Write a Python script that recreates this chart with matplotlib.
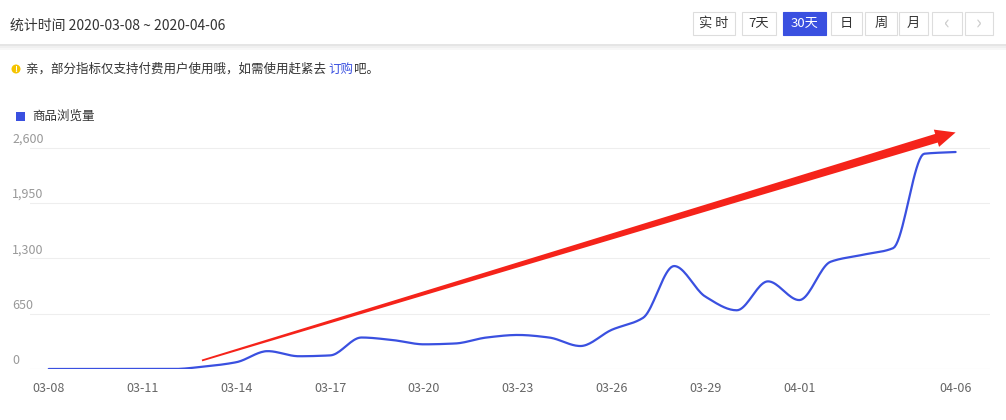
import matplotlib; matplotlib.use("Agg")
import matplotlib.pyplot as plt
import matplotlib.transforms as mtrans
from matplotlib.patches import Rectangle, Ellipse, Polygon
import numpy as np

plt.rcParams['font.family'] = ['Noto Sans CJK SC', 'DejaVu Sans']

dates = ["03-08","03-09","03-10","03-11","03-12","03-13","03-14","03-15","03-16","03-17",
         "03-18","03-19","03-20","03-21","03-22","03-23","03-24","03-25","03-26","03-27",
         "03-28","03-29","03-30","03-31","04-01","04-02","04-03","04-04","04-05","04-06"]
views = [0,0,0,0,0,30,80,210,150,160,370,340,290,300,370,400,370,270,460,600,
         1210,850,690,1030,810,1260,1340,1420,2530,2550]
xtick_labels = ["03-08","03-11","03-14","03-17","03-20","03-23","03-26","03-29","04-01","04-06"]
yticks = [0, 650, 1300, 1950, 2600]

BLUE = "#3a50e0"; GREY = "#999"; INK = "#333"

fig = plt.figure(figsize=(10.06, 4.2), dpi=100)
W, H = 1006, 420
def fx(px): return px / W
def fy(py): return 1 - py / H

# header bar with shadow
for i, a in enumerate([0.10, 0.06, 0.03]):
    fig.patches.append(Rectangle((0, fy(46 + i*2)), 1, 2/H, transform=fig.transFigure, fc="#000", alpha=a, ec="none"))
fig.text(fx(10), fy(26), "统计时间 2020-03-08 ~ 2020-04-06", fontsize=10, color=INK, va="center")
buttons = [("实 时",693,735),("7天",742,776),("30天",783,826),("日",831,862),("周",865,897),("月",899,928),("‹",932,962),("›",965,993)]
for lab, x0, x1 in buttons:
    active = lab == "30天"
    fig.patches.append(Rectangle((fx(x0), fy(35)), fx(x1-x0), 23/H, transform=fig.transFigure,
                                 fc=BLUE if active else "white", ec=BLUE if active else "#ddd", lw=0.8))
    col = "white" if active else ("#ccc" if lab in "‹›" else INK)
    fig.text(fx((x0+x1)/2), fy(23.5), lab, ha="center", va="center", fontsize=14 if lab in "‹›" else 9.5, color=col)

# notice
fig.patches.append(Ellipse((fx(16), fy(69)), 9/W, 9/H, transform=fig.transFigure, fc="#f5c400", ec="none"))
fig.text(fx(16), fy(69), "!", ha="center", va="center", fontsize=6, color="white", fontweight="bold")
t = fig.text(fx(26), fy(69), "亲，部分指标仅支持付费用户使用哦，如需使用赶紧去 ", fontsize=9, color=INK, va="center")
fig.canvas.draw()
r = fig.canvas.get_renderer()
bb = t.get_window_extent(renderer=r)
t2 = fig.text(bb.x1 / W, fy(69), "订购", fontsize=9, color=BLUE, va="center")
bb2 = t2.get_window_extent(renderer=r)
fig.text(bb2.x1 / W, fy(69), "吧。", fontsize=9, color=INK, va="center")

# legend
fig.patches.append(Rectangle((fx(16), fy(121)), 9/W, 9/H, transform=fig.transFigure, fc=BLUE, ec="none"))
fig.text(fx(32), fy(116), "商品浏览量", fontsize=9, color=INK, va="center")

# chart
ax = fig.add_axes([fx(30), fy(369), fx(960), (369-135)/H])
x = np.arange(len(dates), dtype=float)
y = np.array(views, float)
# monotone cubic (Fritsch-Carlson) smoothing for the rendered curve
h = np.diff(x); dlt = np.diff(y) / h
m = np.zeros_like(y); m[0], m[-1] = dlt[0], dlt[-1]
for i in range(1, len(y)-1):
    if dlt[i-1]*dlt[i] > 0:
        m[i] = 2/(1/dlt[i-1] + 1/dlt[i])
xs, ys = [], []
for i in range(len(y)-1):
    tt = np.linspace(0, 1, 20, endpoint=False)
    h00 = 2*tt**3-3*tt**2+1; h10 = tt**3-2*tt**2+tt; h01 = -2*tt**3+3*tt**2; h11 = tt**3-tt**2
    xs.extend(x[i] + tt*h[i]); ys.extend(h00*y[i] + h10*h[i]*m[i] + h01*y[i+1] + h11*h[i]*m[i+1])
xs.append(x[-1]); ys.append(y[-1])
ax.plot(xs, ys, color=BLUE, lw=1.6, solid_capstyle="round", zorder=3)
ax.set_xlim(-0.6, 30.1); ax.set_ylim(0, 2750)
for s in ax.spines.values(): s.set_visible(False)
for v in yticks:
    ax.axhline(v, color="#eee" if v else "#ddd", lw=0.8, zorder=1)
ax.set_yticks([])
tr = mtrans.blended_transform_factory(fig.transFigure, ax.transData)
for v in yticks:
    ax.text(fx(12), v + 25, f"{v:,}", transform=tr, fontsize=9, color=GREY, va="bottom", ha="left")
ax.set_xticks([dates.index(d) for d in xtick_labels])
ax.set_xticklabels(xtick_labels, fontsize=9, color="#666")
ax.tick_params(axis="x", length=0, pad=9)

# red trend arrow (annotation)
x0, y0, x1, y1 = 4.9, 100, 29.0, 2780
px = ax.transData.transform([[x0, y0], [x1, y1]])
v = px[1]-px[0]; L = np.hypot(*v); u = v/L; n = np.array([-u[1], u[0]])
def pt(p): return ax.transData.inverted().transform(p)
tail = px[0]; head = px[1]; base = head - u*20
poly = [tail + n*0.9, base + n*4.5, base + n*9, head, base - n*9, base - n*4.5, tail - n*0.9]
ax.add_patch(Polygon([pt(p) for p in poly], closed=True, fc="#f5231a", ec="none", zorder=4, clip_on=False))

fig.savefig("out.png", dpi=100)
